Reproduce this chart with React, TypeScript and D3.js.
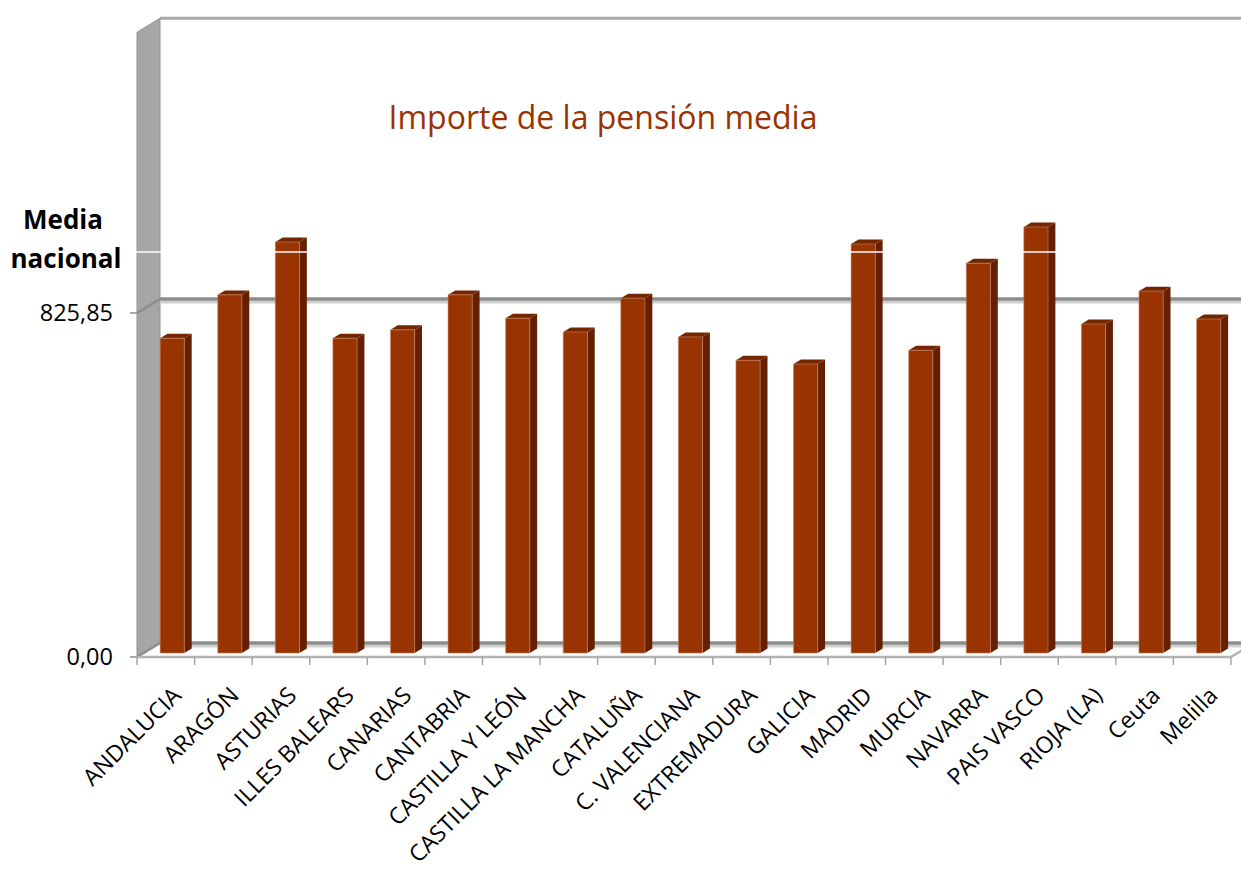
import * as d3 from "d3";
import { useEffect, useRef } from "react";

const regions = [
  "ANDALUCIA", "ARAGÓN", "ASTURIAS", "ILLES BALEARS", "CANARIAS", "CANTABRIA",
  "CASTILLA Y LEÓN", "CASTILLA LA MANCHA", "CATALUÑA", "C. VALENCIANA",
  "EXTREMADURA", "GALICIA", "MADRID", "MURCIA", "NAVARRA", "PAIS VASCO",
  "RIOJA (LA)", "Ceuta", "Melilla",
];
const pension = [
  756, 860, 987, 756, 776, 860, 804, 771, 852, 759,
  703, 694, 982, 727, 936, 1023, 790, 869, 802,
];
const mediaNacional = 825.85;
const yTicks = [0, mediaNacional];
const yTop = 1500;
const title = "Importe de la pensión media";

const W = 1241;
const H = 869;

function Chart() {
  const ref = useRef<SVGSVGElement>(null);

  useEffect(() => {
    const svg = d3.select(ref.current);
    svg.selectAll("*").remove();

    // front plane scales; depth pushes things up-right
    const x = d3.scaleBand().domain(regions).range([137, 1231]);
    const y = d3.scaleLinear().domain([0, mediaNacional]).range([657, 313]);
    const depth = { dx: 23, dy: -14 };
    const P = (px: number, py: number, t: number): [number, number] => [px + depth.dx * t, py + depth.dy * t];
    const poly = (pts: [number, number][]) => pts.map((p) => p.join(",")).join(" ");

    const xL = x.range()[0];
    const xR = x.range()[1];
    const g = svg.append("g");

    // side wall
    g.append("polygon")
      .attr("points", poly([P(xL, y(0), 0), P(xL, y(yTop), 0), P(xL, y(yTop), 1), P(xL, y(0), 1)]))
      .attr("fill", "#a6a6a6")
      .attr("stroke", "#939393")
      .attr("stroke-width", 1);

    // back wall top edge
    g.append("line")
      .attr("x1", P(xL, 0, 1)[0]).attr("x2", W)
      .attr("y1", P(0, y(yTop), 1)[1]).attr("y2", P(0, y(yTop), 1)[1])
      .attr("stroke", "#a8a8a8").attr("stroke-width", 3);

    // floor
    g.append("polygon")
      .attr("points", poly([P(xL, y(0), 0), P(xL, y(0), 1), P(xR, y(0), 1), P(xR, y(0), 0)]))
      .attr("fill", "#ffffff");

    // gridlines (back wall + side wall)
    yTicks.forEach((v) => {
      const [bx, by] = P(xL, y(v), 1);
      g.append("line")
        .attr("x1", bx).attr("x2", W + 20)
        .attr("y1", by + 3).attr("y2", by + 3)
        .attr("stroke", "#cfcfcf").attr("stroke-width", 3);
      g.append("line")
        .attr("x1", bx).attr("x2", W + 20)
        .attr("y1", by).attr("y2", by)
        .attr("stroke", "#8c8c8c").attr("stroke-width", 3.5);
      g.append("line")
        .attr("x1", xL).attr("y1", y(v))
        .attr("x2", bx).attr("y2", by)
        .attr("stroke", "#8c8c8c").attr("stroke-width", 2.5);
      g.append("line")
        .attr("x1", xL - 7).attr("x2", xL)
        .attr("y1", y(v)).attr("y2", y(v))
        .attr("stroke", "#8c8c8c").attr("stroke-width", 1.5);
    });

    // front axis line + ticks
    g.append("line")
      .attr("x1", xL).attr("x2", xR)
      .attr("y1", y(0)).attr("y2", y(0))
      .attr("stroke", "#b3b3b3").attr("stroke-width", 2.5);
    g.append("line")
      .attr("x1", xR).attr("y1", y(0))
      .attr("x2", P(xR, y(0), 1)[0]).attr("y2", P(xR, y(0), 1)[1])
      .attr("stroke", "#b3b3b3").attr("stroke-width", 2.5);
    g.append("g")
      .selectAll("line")
      .data(regions.map((_, i) => xL + i * x.step()).concat([xR]))
      .join("line")
      .attr("x1", (d) => d).attr("x2", (d) => d)
      .attr("y1", y(0)).attr("y2", y(0) + 8)
      .attr("stroke", "#a6a6a6").attr("stroke-width", 1.5);

    // bars
    const bw = x.bandwidth() * 0.42;
    const t0 = 0.28;
    const t1 = 0.6;
    const bars = g.append("g")
      .selectAll("g")
      .data(regions.map((r, i) => ({ r, v: pension[i] })))
      .join("g");

    const left = (d: { r: string }) => (x(d.r) || 0) + x.bandwidth() / 2 - bw / 2;

    bars.append("polygon")
      .attr("points", (d) => {
        const l = left(d);
        const r = l + bw;
        return poly([P(r, y(0), t0), P(r, y(d.v), t0), P(r, y(d.v), t1), P(r, y(0), t1)]);
      })
      .attr("fill", "#642000");
    bars.append("polygon")
      .attr("points", (d) => {
        const l = left(d);
        const r = l + bw;
        return poly([P(l, y(d.v), t0), P(r, y(d.v), t0), P(r, y(d.v), t1), P(l, y(d.v), t1)]);
      })
      .attr("fill", "#742600");
    bars.append("polygon")
      .attr("points", (d) => {
        const l = left(d);
        const r = l + bw;
        return poly([P(l, y(0), t0), P(l, y(d.v), t0), P(r, y(d.v), t0), P(r, y(0), t0)]);
      })
      .attr("fill", "#993300")
      .attr("stroke", "#c98a6a")
      .attr("stroke-width", 0.6);

    // stray white rule across the plot
    g.append("line")
      .attr("x1", 125).attr("x2", W)
      .attr("y1", 252).attr("y2", 252)
      .attr("stroke", "#ffffff").attr("stroke-width", 1.5);

    // y labels
    g.append("g")
      .selectAll("text")
      .data(yTicks)
      .join("text")
      .attr("x", 113)
      .attr("y", (d) => y(d))
      .attr("dy", "0.36em")
      .attr("text-anchor", "end")
      .attr("font-family", "Open Sans")
      .attr("font-size", 23.5)
      .attr("fill", "#000")
      .text((d) => d3.format(".2f")(d).replace(".", ","));

    // x labels
    g.append("g")
      .selectAll("text")
      .data(regions)
      .join("text")
      .attr("transform", (d) => `translate(${(x(d) || 0) + x.bandwidth() / 2 + 11},${y(0) + 34}) rotate(-45)`)
      .attr("text-anchor", "end")
      .attr("dy", "0.36em")
      .attr("font-family", "Open Sans")
      .attr("font-size", 23)
      .attr("fill", "#000")
      .text((d) => d);

    // title
    svg.append("text")
      .attr("x", 603)
      .attr("y", 129)
      .attr("text-anchor", "middle")
      .attr("font-family", "Open Sans")
      .attr("font-size", 32)
      .attr("fill", "#993300")
      .text(title);

    // "Media nacional"
    const mn = svg.append("text")
      .attr("font-family", "Open Sans")
      .attr("font-weight", "bold")
      .attr("font-size", 26)
      .attr("text-anchor", "middle")
      .attr("fill", "#000");
    mn.append("tspan").attr("x", 63).attr("y", 229).text("Media");
    mn.append("tspan").attr("x", 66).attr("y", 268).text("nacional");
  }, []);

  return (
    <svg
      ref={ref}
      width={W}
      height={H}
      style={{ position: "absolute", left: 0, top: 0, background: "#fff" }}
    />
  );
}

export default function App() {
  return <Chart />;
}
